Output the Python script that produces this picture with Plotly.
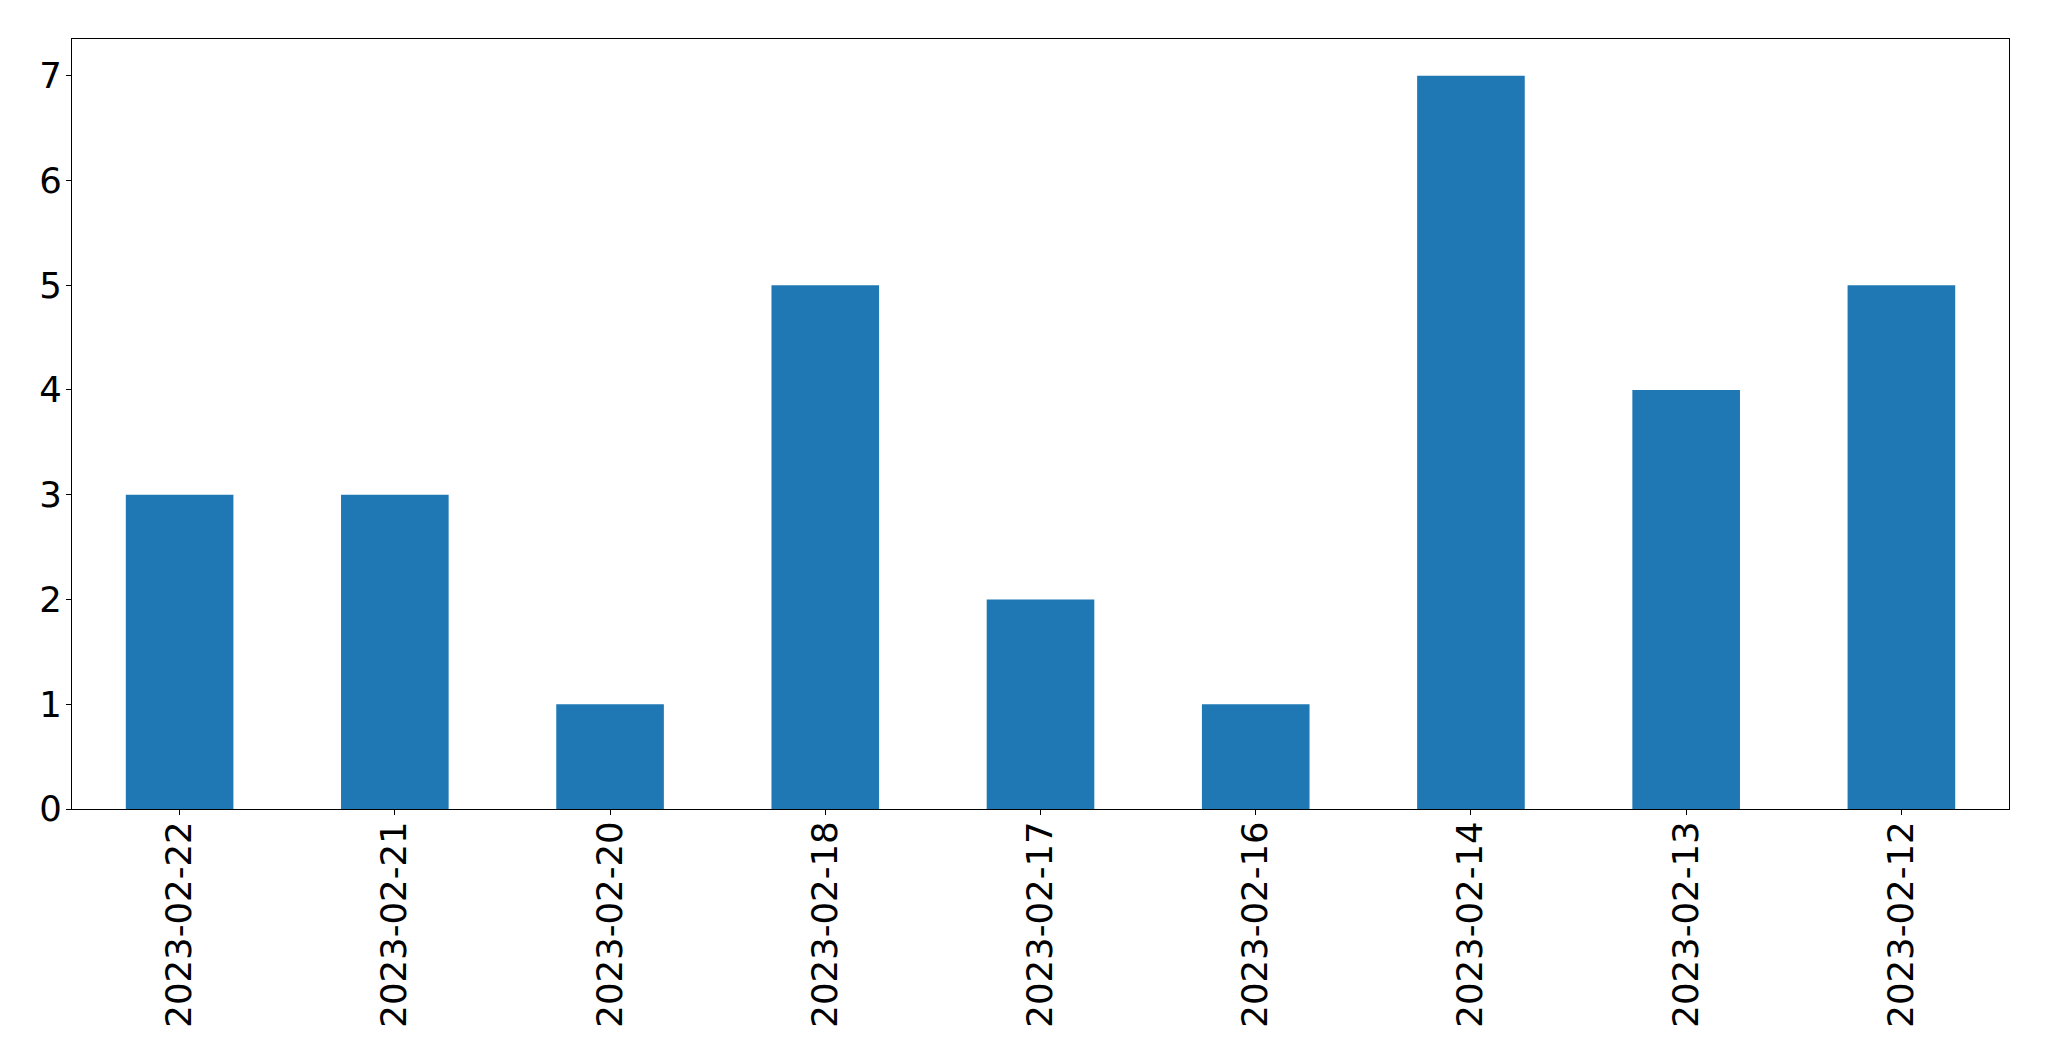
import plotly.graph_objects as go

dates = ["2023-02-22", "2023-02-21", "2023-02-20", "2023-02-18", "2023-02-17",
         "2023-02-16", "2023-02-14", "2023-02-13", "2023-02-12"]
counts = [3, 3, 1, 5, 2, 1, 7, 4, 5]
y_ticks = [0, 1, 2, 3, 4, 5, 6, 7]

fig = go.Figure(go.Bar(x=dates, y=counts, marker_color="#1f77b4", marker_line_width=0, width=0.5))

axis_common = dict(showline=True, linecolor="black", linewidth=1.3, mirror=True,
                   ticks="outside", ticklen=5, tickwidth=1.3, tickcolor="black",
                   showgrid=False, zeroline=False,
                   tickfont=dict(family="DejaVu Sans", size=35.5, color="black"))

# page body has an 8px default margin; compensate so the plot area lands where the reference has it
fig.update_layout(
    width=2033, height=1045,
    margin=dict(l=64, r=32, t=31, b=244),
    plot_bgcolor="white", paper_bgcolor="white",
    showlegend=False,
    xaxis=dict(type="category", range=[-0.5, 8.5], tickangle=-90, automargin=False,
               ticklabelstandoff=-8, **axis_common),
    yaxis=dict(range=[0, 7.35], tickvals=y_ticks, automargin=False,
               ticklabelstandoff=-3, **axis_common),
)

fig.write_html("out.html")
